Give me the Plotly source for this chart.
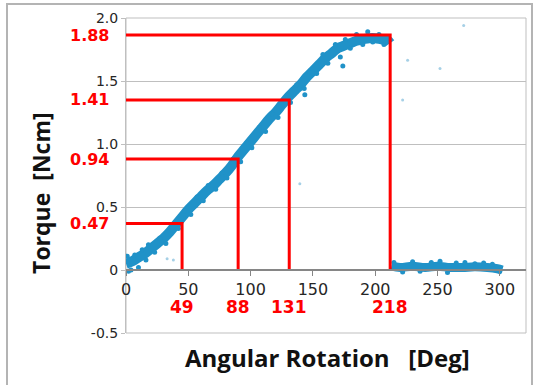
import plotly.graph_objects as go

# ---- data ----
ramp_x = [0, 5, 10, 15, 20, 25, 30, 35, 40, 45, 50, 55, 60, 65, 70, 75, 80, 85, 90, 95, 100,
          105, 110, 115, 120, 125, 130, 135, 140, 145, 150, 155, 160, 165, 170, 175, 180,
          185, 190, 195, 200, 205, 210, 212]
ramp_y = [0.05, 0.07, 0.10, 0.13, 0.17, 0.21, 0.25, 0.30, 0.36, 0.42, 0.48, 0.53, 0.58, 0.63,
          0.67, 0.72, 0.77, 0.83, 0.90, 0.96, 1.02, 1.08, 1.14, 1.20, 1.25, 1.31, 1.37, 1.42,
          1.47, 1.53, 1.58, 1.63, 1.68, 1.72, 1.76, 1.78, 1.80, 1.82, 1.83, 1.84, 1.84, 1.83,
          1.82, 1.80]

flat_x = [213, 220, 230, 240, 250, 260, 270, 280, 290, 298, 302]
flat_y = [0.03, 0.02, 0.03, 0.02, 0.03, 0.02, 0.02, 0.025, 0.02, 0.01, 0.0]

rough_x = [1, 2, 4, 7, 10, 13, 16, 18, 23, 27, 32, 37, 42, 47, 52, 57, 62, 66, 72, 77, 81,
           86, 92, 97, 101, 107, 112, 117, 122, 127, 132, 137, 143, 143.5, 147, 153, 158,
           162, 168, 172, 174, 176, 180, 185, 190, 194, 198, 203, 207, 210,
           215, 222, 230, 236, 245, 252, 258, 265, 272, 280, 287, 294, 300]
rough_y = [0.11, -0.01, 0.0, 0.12, 0.02, 0.16, 0.08, 0.20, 0.14, 0.25, 0.21, 0.34, 0.33, 0.47,
           0.44, 0.58, 0.55, 0.67, 0.64, 0.77, 0.73, 0.88, 0.86, 1.01, 0.97, 1.13, 1.10, 1.24,
           1.21, 1.35, 1.33, 1.47, 1.44, 1.39, 1.57, 1.56, 1.71, 1.64, 1.79, 1.69, 1.62, 1.83,
           1.76, 1.87, 1.79, 1.89, 1.81, 1.87, 1.79, 1.85,
           0.06, -0.015, 0.065, -0.01, 0.06, 0.07, -0.02, 0.055, 0.06, 0.05, 0.055, 0.045, -0.01]

stray_x = [33, 38, 139.5, 222, 226, 252, 271]
stray_y = [0.09, 0.08, 0.685, 1.35, 1.665, 1.60, 1.94]

mark_x = [45, 90, 131, 212]
mark_y = [0.37, 0.88, 1.35, 1.865]
label_x = ["49", "88", "131", "218"]
label_y = ["0.47", "0.94", "1.41", "1.88"]

x_ticks = [0, 50, 100, 150, 200, 250, 300]
y_ticks = [-0.5, 0, 0.5, 1.0, 1.5, 2.0]
y_ticktext = ["-0.5", "0", "0.5", "1.0", "1.5", "2.0"]

BLUE = "#2092c8"
RED = "#ff0000"

fig = go.Figure()
fig.add_trace(go.Scatter(x=ramp_x, y=ramp_y, mode="lines",
                         line=dict(color=BLUE, width=10, shape="spline"), hoverinfo="skip"))
fig.add_trace(go.Scatter(x=flat_x, y=flat_y, mode="lines",
                         line=dict(color=BLUE, width=9, shape="spline"), hoverinfo="skip"))
fig.add_trace(go.Scatter(x=rough_x, y=rough_y, mode="markers",
                         marker=dict(color=BLUE, size=5), hoverinfo="skip"))
fig.add_trace(go.Scatter(x=stray_x, y=stray_y, mode="markers",
                         marker=dict(color="#a6d0e6", size=3), hoverinfo="skip"))

lx, ly = [], []
for mx, my in zip(mark_x, mark_y):
    lx += [0, mx, mx, None]
    ly += [my, my, 0, None]
fig.add_trace(go.Scatter(x=lx, y=ly, mode="lines", line=dict(color=RED, width=3),
                         hoverinfo="skip"))

ann = []
for mx, t in zip(mark_x, label_x):
    ann.append(dict(x=mx, y=0.0825, xref="x", yref="paper", text=t, showarrow=False,
                    xanchor="center", yanchor="middle",
                    font=dict(family="DejaVu Sans", size=17, color=RED, weight="bold")))
for my, t in zip(mark_y, label_y):
    ann.append(dict(x=0, y=my, xref="paper", yref="y", text=t, showarrow=False,
                    xanchor="right", yanchor="middle", xshift=-15,
                    font=dict(family="DejaVu Sans", size=16, color=RED, weight="bold")))
ann.append(dict(x=0.5025, y=-0.079, xref="paper", yref="paper",
                text="Angular Rotation\u00a0\u00a0\u00a0[Deg]", showarrow=False,
                xanchor="center", yanchor="middle",
                font=dict(family="Open Sans", size=24, color="#111111", weight="bold")))
ann.append(dict(x=-0.213, y=0.444, xref="paper", yref="paper",
                text="Torque\u00a0\u00a0[Ncm]", showarrow=False, textangle=-90,
                xanchor="center", yanchor="middle",
                font=dict(family="Open Sans", size=23, color="#111111", weight="bold")))

fig.update_layout(
    width=535, height=385,
    margin=dict(l=126, r=9, t=18, b=52),
    paper_bgcolor="white", plot_bgcolor="white",
    showlegend=False,
    annotations=ann,
    shapes=[
        dict(type="rect", xref="paper", yref="paper", x0=0, x1=1, y0=0, y1=1,
             line=dict(color="#bfbfbf", width=1), layer="below"),
        dict(type="rect", xref="paper", yref="paper", x0=-0.2975, x1=1.015,
             y0=-0.18, y1=1.0444, line=dict(color="#b4b4b4", width=2), layer="below"),
    ],
    xaxis=dict(range=[0, 321], tickvals=x_ticks, anchor="free", position=0.2,
               showline=True, linecolor="#868686", linewidth=1.5,
               ticks="outside", ticklen=5, tickcolor="#868686",
               showgrid=False, zeroline=False,
               tickfont=dict(family="DejaVu Sans", size=16, color="#262626")),
    yaxis=dict(range=[-0.5, 2.0], tickvals=y_ticks, ticktext=y_ticktext,
               showgrid=True, gridcolor="#bfbfbf", gridwidth=1, zeroline=False,
               showline=True, linecolor="#bfbfbf", ticks="outside", ticklen=4,
               tickcolor="#bfbfbf",
               tickfont=dict(family="DejaVu Sans", size=14, color="#262626")),
)

fig.write_html("out.html")
